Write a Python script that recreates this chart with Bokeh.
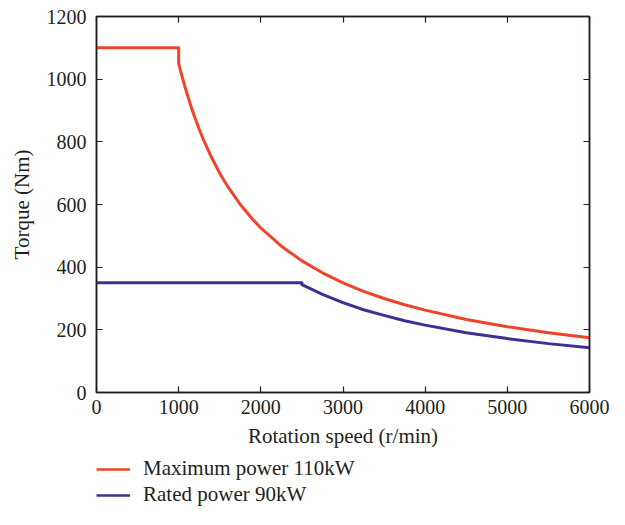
from bokeh.plotting import figure
from bokeh.layouts import column
from bokeh.models import LinearAxis, Legend, LegendItem, FixedTicker, Range1d
from bokeh.embed import file_html
from bokeh.resources import INLINE

# Data
max_speed = [0, 1000, 1000, 1050, 1100, 1150, 1200, 1250, 1300, 1400, 1500, 1600,
             1750, 1900, 2000, 2250, 2500, 2750, 3000, 3250, 3500, 3750, 4000,
             4500, 5000, 5500, 6000]
max_torque = [1100, 1100, 1050, 1000, 955, 913, 875, 840, 808, 750, 700, 656,
              600, 553, 525, 467, 420, 382, 350, 323, 300, 280, 263,
              233, 210, 191, 175]

rated_speed = [0, 2500, 2500, 2750, 3000, 3250, 3500, 3750, 4000, 4500, 5000, 5500, 6000]
rated_torque = [350, 350, 344, 313, 287, 264, 246, 229, 215, 191, 172, 156, 143]

x_ticks = [0, 1000, 2000, 3000, 4000, 5000, 6000]
y_ticks = [0, 200, 400, 600, 800, 1000, 1200]

series_names = ["Maximum power 110kW", "Rated power 90kW"]

FONT = "Liberation Serif"
RED = "#EF4429"
BLUE = "#3B3194"
INK = "#231F20"

p = figure(width=609, height=450, output_backend="svg", toolbar_location=None,
           x_range=Range1d(0, 6000), y_range=Range1d(0, 1200),
           x_axis_location=None, y_axis_location=None,
           min_border_left=94, min_border_right=20, min_border_top=16,
           min_border_bottom=58)
p.grid.visible = False
p.outline_line_color = INK
p.outline_line_width = 1.5

p.line(max_speed, max_torque, line_color=RED, line_width=3, line_join="round")
p.line(rated_speed, rated_torque, line_color=BLUE, line_width=3, line_join="round")

def style(ax, ticks, labels=True):
    ax.major_tick_in = 6
    ax.major_tick_out = 0
    ax.minor_tick_line_color = None
    ax.axis_line_color = INK
    ax.axis_line_width = 1.5
    ax.major_tick_line_color = INK
    ax.major_tick_line_width = 1.2
    if labels:
        ax.major_label_text_font = FONT
        ax.major_label_text_font_size = "20px"
        ax.major_label_text_color = INK
        ax.axis_label_text_font = FONT
        ax.axis_label_text_font_size = "21px"
        ax.axis_label_text_font_style = "normal"
        ax.axis_label_text_color = INK
    else:
        ax.major_label_overrides = {t: "" for t in ticks}
        ax.major_label_standoff = 0

xb = LinearAxis(ticker=FixedTicker(ticks=x_ticks), axis_label="Rotation speed (r/min)")
style(xb, x_ticks)
xb.major_label_standoff = 7
xb.axis_label_standoff = 7
yl = LinearAxis(ticker=FixedTicker(ticks=y_ticks), axis_label="Torque (Nm)")
style(yl, y_ticks)
yl.major_label_standoff = 10
yl.axis_label_standoff = 10
xt = LinearAxis(ticker=FixedTicker(ticks=x_ticks))
style(xt, x_ticks, labels=False)
yr = LinearAxis(ticker=FixedTicker(ticks=y_ticks))
style(yr, y_ticks, labels=False)

p.add_layout(xb, "below")
p.add_layout(yl, "left")
p.add_layout(xt, "above")
p.add_layout(yr, "right")

# Legend panel below the chart (its lines lie outside its own ranges; only the legend shows)
lg = figure(width=609, height=59, output_backend="svg", toolbar_location=None,
            x_range=Range1d(0, 1), y_range=Range1d(0, 1),
            x_axis_location=None, y_axis_location=None,
            min_border_left=96, min_border_right=0,
            min_border_top=6, min_border_bottom=0)
lg.grid.visible = False
lg.outline_line_color = None
l1 = lg.line(max_speed, max_torque, line_color=RED, line_width=2.5)
l2 = lg.line(rated_speed, rated_torque, line_color=BLUE, line_width=2.5)

legend = Legend(items=[LegendItem(label=series_names[0], renderers=[l1]),
                       LegendItem(label=series_names[1], renderers=[l2])],
                location="top_left", orientation="vertical")
legend.border_line_color = None
legend.background_fill_alpha = 0
legend.label_text_font = FONT
legend.label_text_font_size = "21px"
legend.label_text_color = INK
legend.glyph_width = 34
legend.glyph_height = 20
legend.label_height = 20
legend.spacing = 1
legend.label_standoff = 13
legend.padding = 0
legend.margin = 0
lg.add_layout(legend, "center")

layout = column(p, lg, spacing=0)
open("out.html", "w").write(file_html(layout, INLINE))
